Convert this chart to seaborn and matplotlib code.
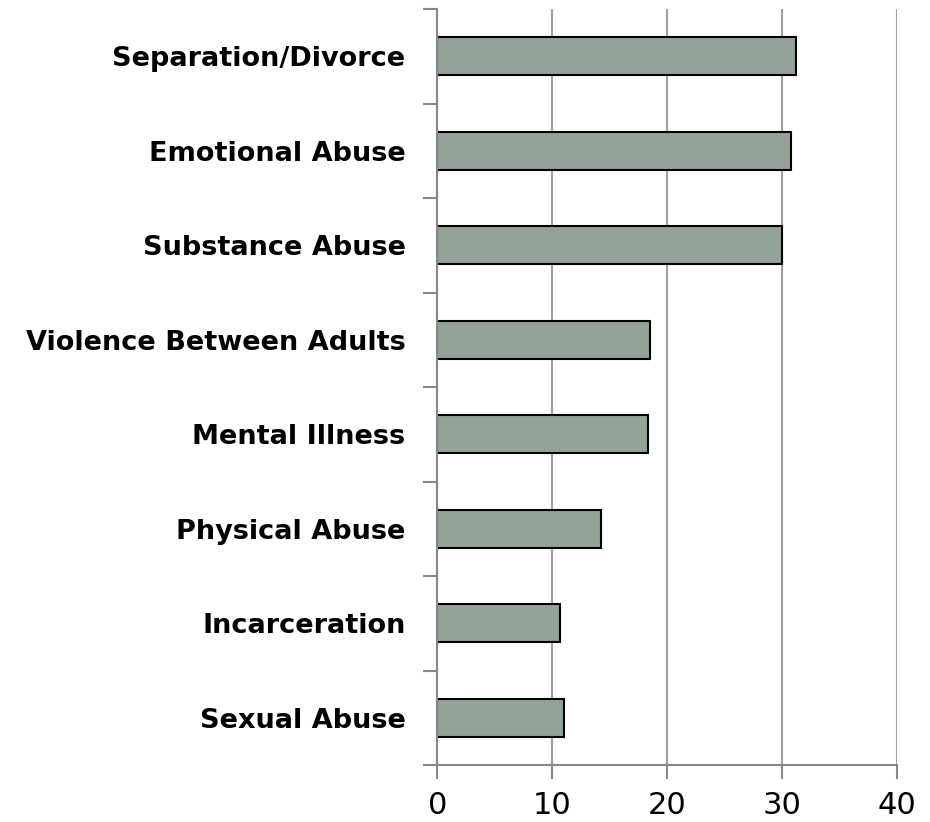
import matplotlib.pyplot as plt
import seaborn as sns
import numpy as np
import pandas as pd

categories = ["Separation/Divorce", "Emotional Abuse", "Substance Abuse",
              "Violence Between Adults", "Mental Illness", "Physical Abuse",
              "Incarceration", "Sexual Abuse"]
values = [31.2, 30.8, 30.0, 18.5, 18.3, 14.2, 10.7, 11.0]
x_ticks = [0, 10, 20, 30, 40]

sns.set_style("white")
plt.rcParams['font.family'] = ['DejaVu Sans']

df = pd.DataFrame({"category": categories, "value": values})

fig = plt.figure(figsize=(9.3, 8.22), dpi=100)
ax = fig.add_axes([0.4704, 0.0693, 0.4938, 0.9197])

sns.barplot(data=df, x="value", y="category", orient="h", color="#93a397",
            saturation=1, width=0.4, edgecolor="black", linewidth=1.5, ax=ax)

ax.set_xlim(0, 40)
ax.set_ylim(len(categories) - 0.5, -0.5)
ax.set_xticks(x_ticks)
ax.set_xticklabels([str(t) for t in x_ticks], fontsize=22, color="black")
ax.set_xlabel("")
ax.set_ylabel("")

# gridlines on x
ax.set_axisbelow(True)
ax.xaxis.grid(True, color="#a0a0a0", linewidth=1.5)
ax.yaxis.grid(False)

# category labels bold, boundary tick marks
ax.set_yticks(range(len(categories)))
ax.set_yticklabels(categories, fontsize=19.5, fontweight="bold", color="black")
ax.set_yticks(np.arange(-0.5, len(categories), 1), minor=True)
ax.tick_params(axis="y", which="major", length=0, pad=23)
ax.tick_params(axis="y", which="minor", length=10, width=1.5, color="#888888", direction="out", left=True)
ax.tick_params(axis="x", which="major", length=10, width=1.5, color="#888888", direction="out", bottom=True, pad=9)

for side in ["top", "right"]:
    ax.spines[side].set_visible(False)
for side in ["left", "bottom"]:
    ax.spines[side].set_color("#888888")
    ax.spines[side].set_linewidth(1.5)

plt.savefig("out.png", dpi=100)
plt.close()
